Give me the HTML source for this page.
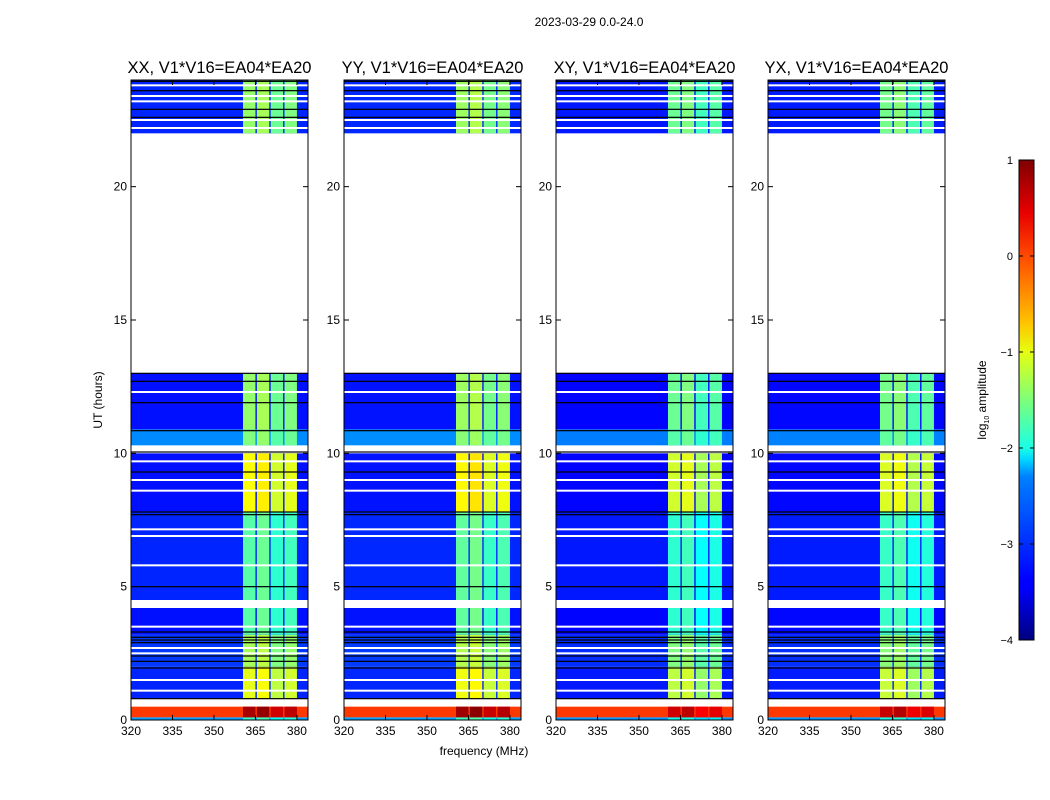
<!DOCTYPE html>
<html><head><meta charset="utf-8">
<style>
body{margin:0;background:#fff;}
svg{display:block;font-family:"Liberation Sans",sans-serif;}
</style></head>
<body>
<svg id="fig" width="1050" height="800" viewBox="0 0 1050 800">
<defs>
<linearGradient id="jet" x1="0" y1="1" x2="0" y2="0">
<stop offset="0" stop-color="#00007f"/><stop offset="0.11" stop-color="#0000ff"/>
<stop offset="0.125" stop-color="#0000ff"/><stop offset="0.34" stop-color="#0080ff"/>
<stop offset="0.375" stop-color="#00d4ff"/><stop offset="0.4" stop-color="#1affe6"/>
<stop offset="0.5" stop-color="#7dff7a"/><stop offset="0.6" stop-color="#e6ff10"/>
<stop offset="0.66" stop-color="#ffc400"/><stop offset="0.8" stop-color="#ff4a00"/>
<stop offset="0.89" stop-color="#e80000"/><stop offset="1" stop-color="#7f0000"/>
</linearGradient>
</defs>
<text x="589" y="26" font-size="12" text-anchor="middle">2023-03-29 0.0-24.0</text>
<text x="484" y="755" font-size="12" text-anchor="middle">frequency (MHz)</text>
<text transform="translate(102,400) rotate(-90)" font-size="12" text-anchor="middle">UT (hours)</text>
<g id="panels"></g>
<g>
<rect x="1019" y="160" width="15" height="480" fill="url(#jet)" stroke="#000" stroke-width="1"/>
<g id="cbticks"></g>
<text transform="translate(986,400) rotate(-90)" font-size="12" text-anchor="middle">log<tspan font-size="7" dy="3">10</tspan><tspan dy="-3"> amplitude</tspan></text>
</g>
</svg>
<script>
// ---- data ----
const panelTitles = ["XX, V1*V16=EA04*EA20","YY, V1*V16=EA04*EA20","XY, V1*V16=EA04*EA20","YX, V1*V16=EA04*EA20"];
const panelOffsets = [0, 0.05, -0.2, -0.15];
// time segments: [startUT, endUT, backgroundLog10, bandLog10] ; missing = white
const segStart = [0.0, 0.1, 0.8, 2.0, 3.2, 4.5, 7.8, 10.3, 10.9, 22.0];
const segEnd   = [0.1, 0.5, 2.0, 3.2, 4.2, 7.8, 10.0, 10.9, 13.0, 24.0];
const segBack  = [-2.6, 0.1, -3.2, -3.1, -3.3, -3.2, -3.3, -2.7, -3.3, -3.2];
const segBand  = [-2.0, 0.7, -1.1, -1.4, -1.8, -1.8, -1.0, -1.6, -1.5, -1.5];
// frequency sub-bands of the RFI region (MHz) and relative offsets
const subStart = [360.5, 365.5, 370.5, 375.5];
const subEnd   = [365.0, 370.0, 375.0, 380.0];
const subLevel = [0.1, 0.2, -0.1, 0.0];
const whiteLines = [1.1,1.5,2.5,2.7,3.5,5.8,6.9,7.15,8.6,9.0,9.7,12.3,22.2,22.5,23.2,23.4,23.8];
const blackLines = [0.8,1.95,2.2,2.4,2.9,3.0,3.1,3.3,5.0,7.7,7.8,9.3,10.05,10.85,11.9,12.7,13.0,22.6,22.9,23.6,23.95];
const xTicks = [320,335,350,365,380];
const yTicks = [0,5,10,15,20];
const cbTicks = [1,0,-1,-2,-3,-4];
// ---- layout ----
const panelX = [131,344,556,768];
const PW = 177, PT = 80, PB = 720;
const fMin = 320, fMax = 384, tMax = 24;
function jet(v){ // v in [-4,1]
  let t = Math.max(0,Math.min(1,(v+4)/5));
  const r=Math.max(0,Math.min(1,1.5-Math.abs(4*t-3)));
  const g=Math.max(0,Math.min(1,1.5-Math.abs(4*t-2)));
  const b=Math.max(0,Math.min(1,1.5-Math.abs(4*t-1)));
  return `rgb(${Math.round(r*255)},${Math.round(g*255)},${Math.round(b*255)})`;
}
const NS="http://www.w3.org/2000/svg";
function mk(tag,attrs,parent){const e=document.createElementNS(NS,tag);for(const k in attrs)e.setAttribute(k,attrs[k]);parent.appendChild(e);return e;}
const root=document.getElementById('panels');
panelTitles.forEach((title,p)=>{
  const x0=panelX[p];
  const xs=f=>x0+(f-fMin)/(fMax-fMin)*PW;
  const ys=t=>PB-t/tMax*(PB-PT);
  const g=mk('g',{},root);
  
  
  const off=panelOffsets[p];
  segStart.forEach((s,i)=>{
    const y1=ys(segEnd[i]), y2=ys(s);
    const r=mk('rect',{x:xs(fMin),y:y1,width:PW,height:y2-y1,fill:jet(segBack[i]+ (i==1?0:off*0.3))},g);
    
    
    subStart.forEach((fs,j)=>{
      const c=mk('rect',{x:xs(fs),y:y1,width:xs(subEnd[j])-xs(fs),height:y2-y1,fill:jet(segBand[i]+subLevel[j]+off)},g);
      
      
    });
  });
  whiteLines.forEach(t=>{const l=mk('rect',{x:x0,y:ys(t)-1,width:PW,height:2,fill:'#fff'},g);
    });
  blackLines.forEach(t=>{const l=mk('rect',{x:x0,y:ys(t)-0.6,width:PW,height:1.2,fill:'#000'},g);
    });
  const fr=mk('rect',{x:x0,y:PT,width:PW,height:PB-PT,fill:'none',stroke:'#000','stroke-width':1},g);
  
  const tt=mk('text',{x:x0+PW/2,y:73,'font-size':16.5,'text-anchor':'middle'},g);
  tt.textContent=title;
  
  xTicks.forEach(f=>{
    mk('line',{x1:xs(f),x2:xs(f),y1:PB,y2:PB-5,stroke:'#000'},g);
    mk('line',{x1:xs(f),x2:xs(f),y1:PT,y2:PT+5,stroke:'#000'},g);
    const t=mk('text',{x:xs(f),y:PB+15,'font-size':12,'text-anchor':'middle'},g);
    t.textContent=f;
  });
  yTicks.forEach(v=>{
    mk('line',{x1:x0,x2:x0+5,y1:ys(v),y2:ys(v),stroke:'#000'},g);
    mk('line',{x1:x0+PW,x2:x0+PW-5,y1:ys(v),y2:ys(v),stroke:'#000'},g);
    const t=mk('text',{x:x0-4,y:ys(v)+4,'font-size':12,'text-anchor':'end'},g);
    t.textContent=v;
  });
});
const cb=document.getElementById('cbticks');
cbTicks.forEach(v=>{
  const y=160+(1-v)/5*480;
  mk('line',{x1:1019,x2:1023,y1:y,y2:y,stroke:'#000'},cb);
  mk('line',{x1:1030,x2:1034,y1:y,y2:y,stroke:'#000'},cb);
  const t=mk('text',{x:1013,y:y+4,'font-size':11,'text-anchor':'end'},cb);
  t.textContent=v<0?'\u2212'+(-v):v;
  
  
});
</script>
</body></html>
